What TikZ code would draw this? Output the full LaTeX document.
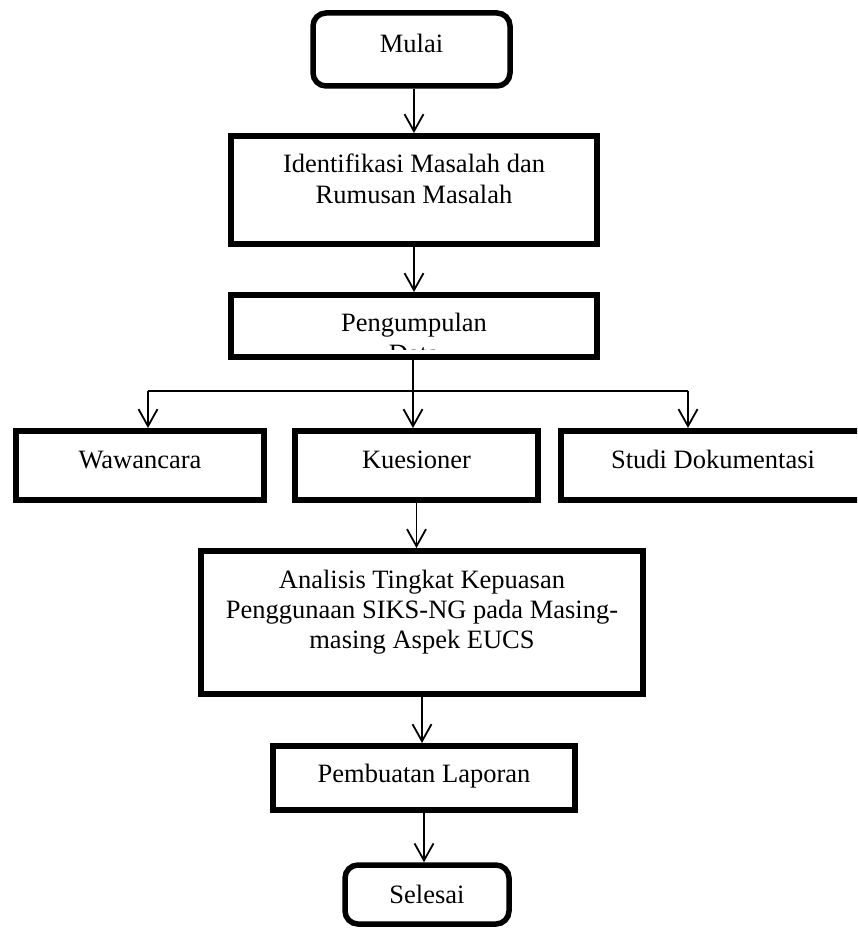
\documentclass[tikz,border=0pt]{standalone}
\usepackage{fontspec}
\setmainfont{Liberation Serif}
\usetikzlibrary{arrows.meta}
\begin{document}
\begin{tikzpicture}[x=1pt,y=-1pt,
  box/.style={draw=black, line width=6pt, fill=white, inner sep=0pt},
  rbox/.style={box, line width=5.5pt, rounded corners=13pt},
  lbl/.style={anchor=base, inner sep=0pt, font=\fontsize{26.5}{30}\selectfont},
  conn/.style={draw=black, line width=1.8pt},
  arr/.style={conn, -{Straight Barb[length=17pt,width=19pt]}}
]
\useasboundingbox (0,0) rectangle (857,928);
\clip (0,0) rectangle (857,928);
% boxes
\node[rbox, minimum width=197pt, minimum height=73pt] (mulai) at (411.5,49.5) {};
\node[box, minimum width=366pt, minimum height=108pt] (ident) at (414,190) {};
\node[box, minimum width=366pt, minimum height=62pt] (peng) at (414,326) {};
\node[box, minimum width=248pt, minimum height=69pt] (waw) at (140,465.5) {};
\node[box, minimum width=243pt, minimum height=69pt] (kue) at (416.5,465.5) {};
\node[box, minimum width=304pt, minimum height=69pt] (studi) at (713,465.5) {};
\node[box, minimum width=442pt, minimum height=143pt] (anal) at (422,622.5) {};
\node[box, minimum width=302pt, minimum height=64pt] (pemb) at (424,778) {};
\node[rbox, minimum width=164pt, minimum height=59pt] (sel) at (427,894.5) {};
% texts
\node[lbl] (tmulai) at (411.5,53) {Mulai};
\node[lbl] (tident1) at (414,173) {Identifikasi Masalah dan};
\node[lbl] (tident2) at (414,204) {Rumusan Masalah};
\node[lbl] (tpeng) at (414,331) {Pengumpulan};
\begin{scope}
  \clip (234,298) rectangle (594,349);
  \node[lbl] (tdata) at (414,362) {Data};
\end{scope}
\node[lbl] (twaw) at (140,468) {Wawancara};
\node[lbl] (tkue) at (416.5,468) {Kuesioner};
\node[lbl] (tstudi) at (713,468) {Studi Dokumentasi};
\node[lbl] (tanal1) at (422,588) {Analisis Tingkat Kepuasan};
\node[lbl] (tanal2) at (422,618) {Penggunaan SIKS-NG pada Masing-};
\node[lbl] (tanal3) at (422,648) {masing Aspek EUCS};
\node[lbl] (tpemb) at (424,782) {Pembuatan Laporan};
\node[lbl] (tsel) at (427,903) {Selesai};
% connectors
\coordinate (bl) at (148,391);
\coordinate (bm) at (413,391);
\coordinate (br) at (688,391);
\draw[arr] (ident.north |- mulai.south) -- (ident.north);
\draw[arr] (ident.south) -- (peng.north);
\draw[conn] (peng.south -| bm) -- (bm);
\draw[conn] (bl) -- (br);
\draw[arr] (bl) -- (bl |- waw.north);
\draw[arr] (bm) -- (bm |- kue.north);
\draw[arr] (br) -- (br |- studi.north);
\draw[arr] (kue.south) -- (kue.south |- anal.north);
\draw[arr] (anal.south) -- (anal.south |- pemb.north);
\draw[arr] (pemb.south) -- (pemb.south |- sel.north);
\end{tikzpicture}
\end{document}
